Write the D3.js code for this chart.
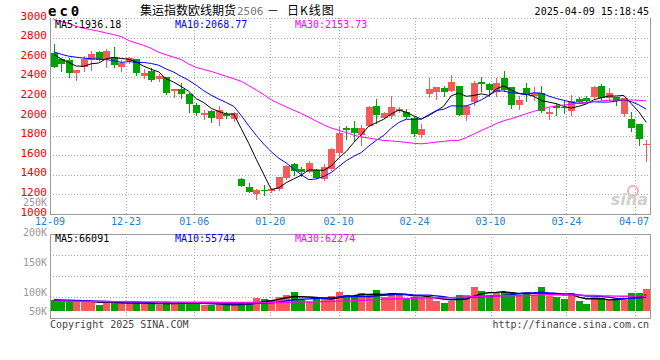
<!DOCTYPE html>
<html>
<head>
<meta charset="utf-8">
<script src="https://cdn.jsdelivr.net/npm/d3@7"></script>
<style>
  body { margin: 0; background: #fff; }
  svg text { font-family: "DejaVu Sans Mono", "Liberation Mono", monospace; }
</style>
</head>
<body>
<script>
// trading days shown on the chart
var dates = ["12-09","12-10","12-11","12-12","12-13","12-16","12-17","12-18","12-19","12-20",
  "12-23","12-24","12-25","12-26","12-27","12-30","12-31","01-02","01-03","01-06",
  "01-07","01-08","01-09","01-10","01-13","01-14","01-15","01-16","01-17","01-20",
  "01-21","01-22","01-23","01-24","01-27","02-05","02-06","02-07","02-10","02-11",
  "02-12","02-13","02-14","02-17","02-18","02-19","02-20","02-21","02-24","02-25",
  "02-26","02-27","02-28","03-03","03-04","03-05","03-06","03-07","03-10","03-11",
  "03-12","03-13","03-14","03-17","03-18","03-19","03-20","03-21","03-24","03-25",
  "03-26","03-27","03-28","03-31","04-01","04-02","04-03","04-07","04-08","04-09"];

var open = [2646,2585,2575,2435,2503,2568,2653,2585,2599,2503, 2558,2578,2408,2456,2374,2395,2252,2279,2224,2112,
  2007,2048,1973,2020,1966,1354,1276,1204,1248,1231, 1255,1367,1510,1463,1429,1452,1360,1463,1622,1875,
  1880,1810,1900,2097,1980,1997,2048,2037,1980,1809, 2224,2245,2286,2258,2303,2013,2143,2344,2327,2245,
  2388,2293,2116,2286,2201,2235,2024,2099,2095,2054, 2173,2184,2191,2303,2184,2191,2020,1969,1915,1701];
var high = [2735,2595,2592,2472,2609,2660,2660,2684,2701,2571, 2605,2585,2483,2490,2428,2400,2280,2333,2230,2133,
  2061,2064,2099,2037,2037,1367,1316,1252,1293,1265, 1381,1503,1524,1483,1544,1463,1513,1670,1895,1898,
  1946,1911,2100,2170,2040,2200,2088,2070,1985,1918, 2388,2300,2303,2415,2310,2110,2360,2395,2340,2388,
  2456,2300,2201,2337,2296,2303,2082,2133,2150,2218, 2190,2200,2303,2327,2286,2195,2184,2041,1920,1758];
var low = [2500,2462,2401,2371,2462,2473,2570,2503,2503,2462, 2540,2415,2388,2360,2354,2224,2197,2184,2041,2007,
  1973,1939,1912,1980,1946,1285,1225,1156,1190,1225, 1248,1360,1401,1388,1425,1365,1350,1452,1605,1770,
  1742,1700,1895,1925,1975,1980,2040,1975,1800,1782, 2191,2173,2201,2252,2010,1962,2109,2258,2201,2201,
  2260,2082,2075,2156,2167,2041,1973,2007,2031,2013, 2130,2140,2180,2167,2167,2109,1997,1850,1707,1538];
var close = [2503,2534,2442,2469,2585,2633,2575,2663,2524,2538, 2592,2442,2442,2367,2408,2235,2272,2224,2122,2031,
  2034,1980,2061,2000,2027,1289,1228,1248,1231,1255, 1374,1493,1435,1429,1520,1367,1476,1663,1827,1855,
  1823,1876,2093,2012,2031,2092,2071,1990,1820,1867, 2276,2296,2245,2347,2013,2105,2337,2330,2269,2337,
  2269,2116,2167,2218,2235,2054,2037,2085,2080,2150, 2143,2156,2296,2184,2235,2150,2184,1878,1768,1714];

var ma5 = [2630,2580,2545,2510,2507,2533,2541,2585,2596,2587, 2578,2552,2508,2476,2450,2379,2345,2301,2252,2177,
  2137,2078,2046,2021,2020,1871,1721,1558,1405,1250, 1267,1320,1358,1397,1450,1449,1445,1491,1571,1638,
  1729,1809,1895,1932,1967,2021,2060,2039,2001,1968, 2005,2050,2101,2206,2235,2201,2209,2226,2211,2276,
  2308,2264,2232,2221,2201,2158,2142,2126,2098,2081, 2099,2123,2165,2186,2203,2204,2210,2126,2043,1936];
var ma10 = [2655,2630,2610,2600,2590,2585,2580,2575,2565,2547, 2556,2546,2546,2536,2518,2479,2448,2404,2364,2314,
  2258,2212,2173,2137,2099,2004,1900,1802,1713,1635, 1569,1521,1458,1401,1350,1358,1383,1424,1484,1544,
  1589,1627,1693,1751,1802,1875,1934,1967,1966,1968, 2013,2055,2070,2104,2102,2103,2130,2164,2209,2256,
  2255,2237,2229,2216,2238,2233,2203,2179,2160,2141, 2129,2133,2145,2142,2142,2152,2166,2146,2114,2069];
var ma30 = [2985,2965,2945,2915,2895,2880,2865,2847,2830,2810, 2770,2745,2720,2690,2650,2625,2600,2575,2530,2495,
  2475,2455,2430,2405,2380,2354,2310,2265,2218,2165, 2128,2093,2059,2025,1989,1947,1910,1877,1854,1831,
  1805,1786,1775,1763,1750,1746,1739,1731,1721,1716, 1724,1734,1740,1752,1751,1779,1816,1852,1886,1922,
  1952,1973,1997,2024,2047,2070,2089,2103,2112,2121, 2132,2141,2148,2154,2161,2163,2166,2163,2161,2154];

// volume in thousands of lots
var volume = [45,45,36,36,45,36,24,36,36,36, 31,31,31,31,24,36,31,36,36,31,
  24,24,31,24,24,31,31,54,49,45, 58,65,79,45,38,49,49,62,79,65,
  58,72,65,86,58,72,69,52,58,58, 58,41,31,41,65,65,99,80,65,72,
  79,76,65,72,65,99,62,58,49,72, 42,30,58,52,45,49,45,73,73,90];
var volMa5 = [40,40,40,41,41.4,39.6,35.4,35.4,35.4,33.6, 32.6,34,33,32,29.6,30.6,30.6,31.6,32.6,34,
  31.6,30.2,29.2,26.8,25.4,26.8,28.2,32.8,37.8,42, 47.4,54.2,59.2,58.4,57,55.2,52,48.6,55.4,60.8,
  62.6,67.2,67.8,69.2,67.8,70.6,70,67.4,61.8,61.8, 59,53.4,49.2,45.8,47.2,48.6,60.2,70,74.8,76.2,
  79,74.4,71.4,72.8,71.4,75.4,72.6,71.2,66.6,68, 56.6,50.2,50.2,50.8,45.4,46.8,49.8,52.8,57,66.1];
var volMa10 = [46,45,44,43,42,41,40,39,38,37.5, 36.1,34.7,34.2,33.7,31.6,31.6,32.3,32.3,32.3,31.8,
  31.1,30.4,30.4,29.7,29.7,29.2,29.2,31,32.3,33.7, 37.1,41.2,46,48.1,49.5,51.3,53.1,53.9,56.9,58.9,
  58.9,59.6,58.2,62.3,64.3,66.6,68.6,67.6,65.5,64.8, 64.8,61.7,58.3,53.8,54.5,53.8,56.8,59.6,60.3,61.7,
  63.8,67.3,70.7,73.8,73.8,77.2,73.5,71.3,69.7,69.7, 66,61.4,60.7,58.7,56.7,51.7,50,51.5,53.9,55.7];
var volMa30 = [40,40,40,39.5,39.5,39,39,39,38.5,38.5, 38,38,37.5,37.5,37,37,36.5,36.5,36,36,
  35.5,35.5,35,35,34.5,34.5,34.5,34.5,34.5,34.3, 34.8,35.4,36.9,37.2,36.9,37.4,38.2,39.1,40.5,41.5,
  42.4,43.7,44.9,46.7,47.8,49,50.3,50.8,51.6,52.5, 53.6,54.2,54.2,54.7,56.1,57.2,59.5,60.4,60.9,61.8,
  62.5,62.9,62.4,63.3,64.2,65.9,66.3,66.2,65.2,65.4, 64.9,63.5,63.2,62.1,61.7,60.9,60.1,60.8,61.3,62.3];

var priceTicks = [3000,2800,2600,2400,2200,2000,1800,1600,1400,1200,1000];
var volTicks = [250,200,150,100,50];
var dateTicks = ["12-09","12-23","01-06","01-20","02-10","02-24","03-10","03-24","04-07"];

var maLabels = ["MA5:1936.18","MA10:2068.77","MA30:2153.73"];
var volMaLabels = ["MA5:66091","MA10:55744","MA30:62274"];
var maColors = ["#000000","#0000ff","#ff00ff"];
var upColor = "#f65a5a", downColor = "#00a300";
var gridColor = "#a8a8a8", borderColor = "#999";

var W = 660, H = 360;
var left = 50, right = 650;
var pTop = 18, pBottom = 214;      // price panel
var vTop = 234, vBottom = 318, vBase = 311; // volume panel

var svg = d3.select("body").append("svg")
  .attr("width", W).attr("height", H);

var x = d3.scaleBand().domain(dates).range([left, right]).paddingInner(0.2).paddingOuter(0.1);
var xg = d3.scalePoint().domain(dates).range([left, right]);
var y = d3.scaleLinear().domain([1000, 3000]).range([pBottom, pTop]);
var yv = d3.scaleLinear().domain([0, 315]).range([vBase, vTop]);
// volume axis labels sit on their own spacing, bottom one pinned to the panel
var yvLabel = d3.scaleLinear().domain([50, 250]).range([321.5, 202]);

var cx = function(d) { return Math.round(x(d)) + 3.5; };

// ---------- price panel grid ----------
var grid = svg.append("g").attr("stroke", gridColor).attr("stroke-dasharray", "1,2").attr("shape-rendering", "crispEdges");
grid.selectAll(".hg").data(priceTicks.slice(0, -1)).enter().append("line")
  .attr("x1", left).attr("x2", right)
  .attr("y1", function(d) { return Math.round(y(d)) + 0.5; })
  .attr("y2", function(d) { return Math.round(y(d)) + 0.5; });
grid.selectAll(".vg").data(dateTicks.slice(1)).enter().append("line")
  .attr("x1", function(d) { return Math.round(xg(d)) + 0.5; })
  .attr("x2", function(d) { return Math.round(xg(d)) + 0.5; })
  .attr("y1", pTop).attr("y2", pBottom);

// volume grid
var vq = [1, 2, 3].map(function(k) { return vTop + (vBottom - vTop) * k / 4; });
grid.selectAll(".vhg").data(vq).enter().append("line")
  .attr("x1", left).attr("x2", right)
  .attr("y1", function(d) { return Math.round(d) + 0.5; })
  .attr("y2", function(d) { return Math.round(d) + 0.5; });
grid.selectAll(".vvg").data(dateTicks.slice(1)).enter().append("line")
  .attr("x1", function(d) { return Math.round(xg(d)) + 0.5; })
  .attr("x2", function(d) { return Math.round(xg(d)) + 0.5; })
  .attr("y1", vTop).attr("y2", vBottom);

// borders
var border = svg.append("g").attr("stroke", borderColor).attr("fill", "none").attr("shape-rendering", "crispEdges");
border.append("path").attr("d", "M" + (left + 0.5) + "," + pTop + "V" + (pBottom + 0.5) + "H" + (right + 0.5) + "V" + pTop);
border.append("rect").attr("x", left + 0.5).attr("y", vTop + 0.5).attr("width", right - left).attr("height", vBottom - vTop);

// ---------- candles ----------
var candles = svg.append("g").attr("shape-rendering", "crispEdges");
dates.forEach(function(d, i) {
  var col = close[i] >= open[i] ? upColor : downColor;
  candles.append("line")
    .attr("x1", cx(d)).attr("x2", cx(d))
    .attr("y1", Math.round(y(high[i]))).attr("y2", Math.round(y(low[i])) + 1)
    .attr("stroke", col);
  var yt = Math.round(y(Math.max(open[i], close[i])));
  var yb = Math.round(y(Math.min(open[i], close[i])));
  candles.append("rect")
    .attr("x", Math.round(x(d))).attr("width", 7)
    .attr("y", yt).attr("height", Math.max(1, yb - yt))
    .attr("fill", col);
});

// moving averages
var line = d3.line()
  .x(function(d, i) { return x(dates[i]) + x.bandwidth() / 2; })
  .y(function(d) { return y(d); });
[ma5, ma10, ma30].forEach(function(s, k) {
  svg.append("path").datum(s).attr("d", line)
    .attr("fill", "none").attr("stroke", maColors[k]).attr("stroke-width", 1);
});

// ---------- volume ----------
var vols = svg.append("g").attr("shape-rendering", "crispEdges");
vols.selectAll("rect").data(volume).enter().append("rect")
  .attr("x", function(d, i) { return Math.round(x(dates[i])); })
  .attr("width", 7)
  .attr("y", function(d) { return Math.round(yv(d)); })
  .attr("height", function(d) { return vBase - Math.round(yv(d)); })
  .attr("fill", function(d, i) { return close[i] >= open[i] ? upColor : downColor; });

var vline = d3.line()
  .x(function(d, i) { return x(dates[i]) + x.bandwidth() / 2; })
  .y(function(d) { return yv(d); });
[volMa5, volMa10, volMa30].forEach(function(s, k) {
  svg.append("path").datum(s).attr("d", vline)
    .attr("fill", "none").attr("stroke", maColors[k]).attr("stroke-width", 1.4);
});

// ---------- axis labels ----------
svg.append("g").selectAll("text").data(priceTicks).enter().append("text")
  .attr("x", 47).attr("y", function(d) { return y(d) + 1.5; })
  .attr("text-anchor", "end").attr("font-size", "11px").attr("fill", "#ee0000")
  .text(function(d) { return d; });

svg.append("g").selectAll("text").data(volTicks).enter().append("text")
  .attr("x", 47).attr("y", function(d) { return Math.min(yvLabel(d), 311) + 4; })
  .attr("text-anchor", "end").attr("font-size", "10px").attr("fill", "#999")
  .text(function(d) { return d + "K"; });

svg.append("g").selectAll("text").data(dateTicks).enter().append("text")
  .attr("x", function(d) { return Math.min(xg(d), 634); })
  .attr("y", 225)
  .attr("text-anchor", "middle").attr("font-size", "10px").attr("fill", "#1a7fd0")
  .text(function(d) { return d; });

// MA legends
var legX = [55, 175, 295];
maLabels.forEach(function(t, k) {
  svg.append("text").attr("x", legX[k]).attr("y", 27.5).attr("font-size", "10px")
    .attr("fill", maColors[k]).text(t);
});
volMaLabels.forEach(function(t, k) {
  svg.append("text").attr("x", legX[k]).attr("y", 241.5).attr("font-size", "10px")
    .attr("fill", maColors[k]).text(t);
});

// ---------- header / footer ----------
svg.append("text").attr("x", 48).attr("y", 16).attr("font-size", "14px").attr("font-weight", "bold")
  .attr("letter-spacing", "3px").text("ec0");

var cjk = "'Noto Sans CJK SC', sans-serif";
var title = svg.append("g");
title.append("text").attr("x", 140).attr("y", 15).attr("font-size", "12px")
  .style("font-family", cjk).text("集运指数欧线期货");
title.append("text").attr("x", 237).attr("y", 15).attr("font-size", "11px").attr("fill", "#777")
  .text("2506");
title.append("text").attr("x", 273).attr("y", 15).attr("font-size", "12px").attr("text-anchor", "middle")
  .style("font-family", cjk).text("－");
title.append("text").attr("x", 287).attr("y", 15).attr("font-size", "12px")
  .style("font-family", cjk).attr("letter-spacing", "1px").text("日K线图");

svg.append("text").attr("x", 649).attr("y", 15).attr("text-anchor", "end").attr("font-size", "10px")
  .text("2025-04-09 15:18:45");

svg.append("text").attr("x", 50).attr("y", 328).attr("font-size", "10px").attr("fill", "#444")
  .text("Copyright 2025 SINA.COM");
svg.append("text").attr("x", 649).attr("y", 328).attr("text-anchor", "end").attr("font-size", "10px").attr("fill", "#444")
  .text("http://finance.sina.com.cn");

// faint sina watermark
svg.append("circle").attr("cx", 633).attr("cy", 191).attr("r", 5).attr("fill", "none")
  .attr("stroke", "#f3b0b0").attr("stroke-width", 2);
svg.append("text").attr("x", 648).attr("y", 205).attr("text-anchor", "end")
  .attr("font-size", "16px").attr("font-weight", "bold").attr("font-style", "italic")
  .style("font-family", "'DejaVu Sans', sans-serif").attr("fill", "#cfcfcf").text("sina");
</script>
</body>
</html>
